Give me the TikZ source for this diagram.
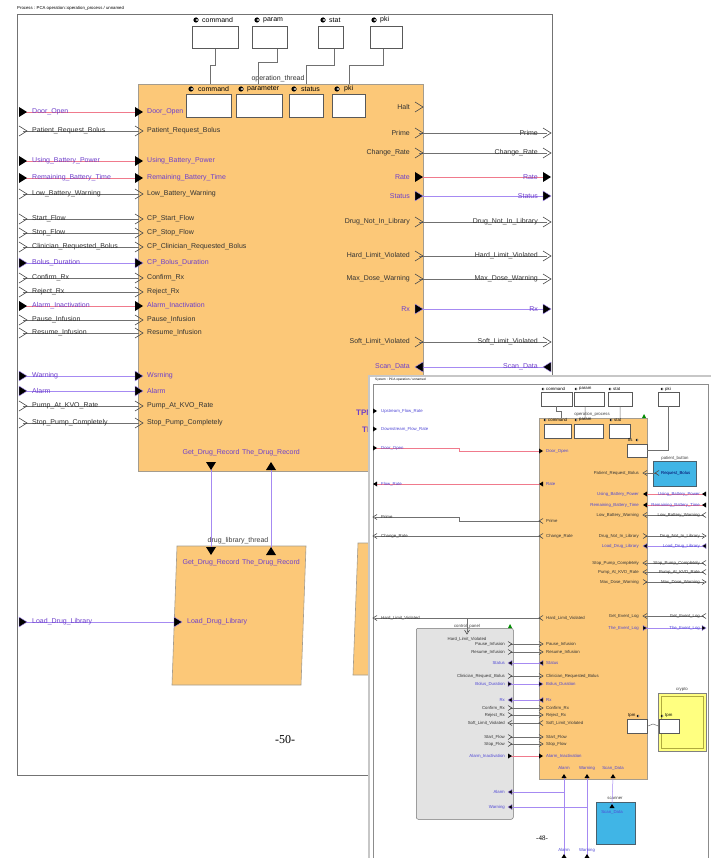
\documentclass[tikz,border=0pt]{standalone}
\usepackage{fontspec}
\setmainfont{Liberation Serif}
\setsansfont{Liberation Sans}

\definecolor{procorange}{HTML}{FCC878}
\definecolor{procedge}{HTML}{A49C8E}
\definecolor{linkred}{HTML}{F07A8C}
\definecolor{linkblue}{HTML}{A68AF2}
\definecolor{linkgrey}{HTML}{707070}
\definecolor{sigviolet}{HTML}{6E3FCB}
\definecolor{sigblue}{HTML}{4D45D6}
\definecolor{panelgrey}{HTML}{E3E3E3}
\definecolor{buttoncyan}{HTML}{40B5E6}
\definecolor{cryptoyellow}{HTML}{FFFF80}

\tikzset{
  biglbl/.style={font=\sffamily\fontsize{7}{8}\selectfont, inner sep=0pt},
  smalllbl/.style={font=\sffamily\fontsize{4.3}{5}\selectfont, inner sep=0pt},
  % colours of the three kinds of signal
  linko/.style={draw=linkgrey},
  linkr/.style={draw=linkred},
  linkb/.style={draw=linkblue},
  txto/.style={text=black!80},
  txtr/.style={text=sigviolet},
  txtb/.style={text=sigviolet},
  stxto/.style={text=black!80},
  stxtr/.style={text=sigblue},
  stxtb/.style={text=sigblue},
  thread/.style={fill=procorange, draw=procedge, line width=0.6pt},
  portbox/.style={draw=black!65, fill=white, line width=0.6pt, inner sep=0pt},
  porto/.pic={\draw[black!70, line width=0.6pt] (-4,-5) -- (4,0) -- (-4,5);},
  portr/.pic={\fill[black] (-4,-5) -- (4,0) -- (-4,5) -- cycle;},
  portb/.pic={\filldraw[fill=black, draw=linkblue, line width=0.4pt] (-4,-5) -- (4,0) -- (-4,5) -- cycle;},
  dataicon/.pic={\fill[black] (0,0) circle (2.6); \fill[white] (1.6,-1.2) -- (-0.6,0) -- (1.6,1.2) -- cycle;},
}

\begin{document}
\begin{tikzpicture}[x=1pt, y=-1pt]
        \fill[white] (0,0) rectangle (711,858);
        \useasboundingbox (0,0) rectangle (711,858);

        % Back page: operation_process
        \node[font=\sffamily\fontsize{4.3}{5}\selectfont, inner sep=0pt, anchor=west] (procTitle) at (17,8) {Process : PCA operation::operation\_process / unnamed};
        \draw[black!55, line width=0.8pt] (17,14) rectangle (552,775);

        % Data ports at the top
        \node[portbox, anchor=north west, minimum width=46pt, minimum height=22pt] (hdrCommand) at (192,26) {};
        \node[portbox, anchor=north west, minimum width=35pt, minimum height=22pt] (hdrParam) at (252,26) {};
        \node[portbox, anchor=north west, minimum width=25pt, minimum height=22pt] (hdrStat) at (318,26) {};
        \node[portbox, anchor=north west, minimum width=32pt, minimum height=22pt] (hdrPki) at (370,26) {};
        \pic at (196,20) {dataicon};
        \node[biglbl, anchor=west] (hdrCommandLbl) at (202,20) {command};
        \pic at (257,20) {dataicon};
        \node[biglbl, anchor=west] (hdrParamLbl) at (263,20) {param};
        \pic at (323,20) {dataicon};
        \node[biglbl, anchor=west] (hdrStatLbl) at (329,20) {stat};
        \pic at (374,20) {dataicon};
        \node[biglbl, anchor=west] (hdrPkiLbl) at (380,20) {pki};

        % The operation thread
        \node[thread, anchor=north west, minimum width=285pt, minimum height=387pt] (opThread) at (138,84) {};
        \node[biglbl, text=black!80] (opThreadLbl) at (278,79) {operation\_thread};
        \coordinate (opCmdPort) at (210,84);
        \coordinate (opParPort) at (258,84);
        \coordinate (opStaPort) at (306,84);
        \coordinate (opPkiPort) at (349,84);
        \draw[linkgrey, line width=0.7pt] (hdrCommand.south) |- (210,65) -- (opCmdPort);
        \draw[linkgrey, line width=0.7pt] ([xshift=8pt]hdrParam.south) |- (258,62) -- (opParPort);
        \draw[linkgrey, line width=0.7pt] ([xshift=4pt]hdrStat.south) |- (306,65) -- (opStaPort);
        \draw[linkgrey, line width=0.7pt] ([xshift=-3pt]hdrPki.south) |- (349,65) -- (opPkiPort);

        \node[portbox, anchor=north west, minimum width=45pt, minimum height=23pt] (thrCommand) at (186,94) {};
        \node[portbox, anchor=north west, minimum width=46pt, minimum height=23pt] (thrParameter) at (236,94) {};
        \node[portbox, anchor=north west, minimum width=34pt, minimum height=23pt] (thrStatus) at (289,94) {};
        \node[portbox, anchor=north west, minimum width=33pt, minimum height=23pt] (thrPki) at (332,94) {};
        \pic at (191,89) {dataicon};
        \node[biglbl, anchor=west] (thrCommandLbl) at (198,89) {command};
        \pic at (241,89) {dataicon};
        \node[biglbl, anchor=west] (thrParameterLbl) at (247,89) {parameter};
        \pic at (294,89) {dataicon};
        \node[biglbl, anchor=west] (thrStatusLbl) at (301,89) {status};
        \pic at (337,89) {dataicon};
        \node[biglbl, anchor=west] (thrPkiLbl) at (344,89) {pki};

        % Inputs on the left
        \foreach \y/\outlbl/\inlbl/\kind in {112/Door\_Open/Door\_Open/r, 131/Patient\_Request\_Bolus/Patient\_Request\_Bolus/o,
            161/Using\_Battery\_Power/Using\_Battery\_Power/r, 178/Remaining\_Battery\_Time/Remaining\_Battery\_Time/r,
            194/Low\_Battery\_Warning/Low\_Battery\_Warning/o, 219/Start\_Flow/CP\_Start\_Flow/o, 233/Stop\_Flow/CP\_Stop\_Flow/o,
            247/Clinician\_Requested\_Bolus/CP\_Clinician\_Requested\_Bolus/o, 263/Bolus\_Duration/CP\_Bolus\_Duration/b,
            278/Confirm\_Rx/Confirm\_Rx/o, 292/Reject\_Rx/Reject\_Rx/o, 306/Alarm\_Inactivation/Alarm\_Inactivation/r,
            320/Pause\_Infusion/Pause\_Infusion/o, 333/Resume\_Infusion/Resume\_Infusion/o, 376/Warning/Wsrning/b,
            391/Alarm/Alarm/b, 406/Pump\_At\_KVO\_Rate/Pump\_At\_KVO\_Rate/o, 423/Stop\_Pump\_Completely/Stop\_Pump\_Completely/o}{
            \coordinate (inL\y) at (23,\y);
            \coordinate (opL\y) at (139,\y);
            \draw[link\kind, line width=0.8pt] (inL\y) -- (opL\y);
            \pic at (inL\y) {port\kind};
            \pic at (opL\y) {port\kind};
            \node[biglbl, txt\kind, anchor=west] (inLlbl\y) at (32,\y) {\outlbl};
            \node[biglbl, txt\kind, anchor=west] (opLlbl\y) at (147,\y) {\inlbl};
        }

        % Outputs on the right
        \coordinate (opR107) at (419,107);
        \pic at (opR107) {porto};
        \node[biglbl, txto, anchor=east] (opRlbl107) at (410,107) {Halt};
        \foreach \y/\sig/\kind/\rot in {133/Prime/o/0, 153/Change\_Rate/o/0, 177/Rate/r/0, 196/Status/b/0,
            222/Drug\_Not\_In\_Library/o/0, 256/Hard\_Limit\_Violated/o/0, 279/Max\_Dose\_Warning/o/0,
            309/Rx/b/0, 342/Soft\_Limit\_Violated/o/0, 367/Scan\_Data/b/180}{
            \coordinate (opR\y) at (419,\y);
            \coordinate (outR\y) at (547,\y);
            \draw[link\kind, line width=0.8pt] (opR\y) -- (outR\y);
            \pic[rotate=\rot] at (opR\y) {port\kind};
            \pic[rotate=\rot] at (outR\y) {port\kind};
            \node[biglbl, txt\kind, anchor=east] (opRlbl\y) at (410,\y) {\sig};
            \node[biglbl, txt\kind, anchor=east] (outRlbl\y) at (538,\y) {\sig};
        }
        \node[font=\sffamily\bfseries\fontsize{8}{9}\selectfont, text=sigviolet, inner sep=0pt, anchor=west] (opTpmA) at (356,413) {TPM};
        \node[font=\sffamily\bfseries\fontsize{8}{9}\selectfont, text=sigviolet, inner sep=0pt, anchor=west] (opTpmB) at (362,430) {TPM};

        % Drug library thread
        \draw[thread] (177,546) -- (306,546) -- (301,685) -- (172,685) -- cycle;
        \node[biglbl, text=black!75] (dlTitle) at (238,541) {drug\_library\_thread};
        \coordinate (opGet) at (211,466);
        \coordinate (opThe) at (271,466);
        \coordinate (dlGet) at (211,551);
        \coordinate (dlThe) at (271,551);
        \draw[linkb, line width=0.8pt] (opGet) -- (dlGet);
        \draw[linkb, line width=0.8pt] (opThe) -- (dlThe);
        \pic[rotate=-90] at (opGet) {portr};
        \pic[rotate=90] at (opThe) {portr};
        \pic[rotate=-90] at (dlGet) {portr};
        \pic[rotate=90] at (dlThe) {portr};
        \node[biglbl, txtr] (opGetLbl) at (211,453) {Get\_Drug\_Record};
        \node[biglbl, txtr] (opTheLbl) at (271,453) {The\_Drug\_Record};
        \node[biglbl, txtr] (dlGetLbl) at (211,563) {Get\_Drug\_Record};
        \node[biglbl, txtr] (dlTheLbl) at (271,563) {The\_Drug\_Record};
        \coordinate (inLoad) at (23,622);
        \coordinate (dlLoad) at (178,622);
        \draw[linkb, line width=0.8pt] (inLoad) -- (dlLoad);
        \pic at (inLoad) {portb};
        \pic at (dlLoad) {portb};
        \node[biglbl, txtb, anchor=west] (inLoadLbl) at (32,622) {Load\_Drug\_Library};
        \node[biglbl, txtb, anchor=west] (dlLoadLbl) at (187,622) {Load\_Drug\_Library};

        % third thread, mostly hidden
        \draw[thread] (358,543) -- (420,543) -- (420,675) -- (353,675) -- cycle;
        \node[font=\fontsize{12}{14}\selectfont, inner sep=0pt] (pageNumA) at (285,740) {-50-};

        % Front page: system view
        \fill[black!22] (368,375) rectangle (711,858);
        \fill[white] (370,377) rectangle (711,858);
        \draw[black!45, line width=0.5pt] (373,384) rectangle (708,860);
        \node[font=\sffamily\fontsize{3.2}{4}\selectfont, inner sep=0pt, anchor=west] (sysTitle) at (375,380) {System : PCA operation / unnamed};

        \node[portbox, line width=0.4pt, anchor=north west, minimum width=31pt, minimum height=14pt] (sysCommand) at (541,392) {};
        \node[portbox, line width=0.4pt, anchor=north west, minimum width=30pt, minimum height=14pt] (sysParam) at (574,392) {};
        \node[portbox, line width=0.4pt, anchor=north west, minimum width=24pt, minimum height=14pt] (sysStat) at (608,392) {};
        \node[portbox, line width=0.4pt, anchor=north west, minimum width=21pt, minimum height=14pt] (sysPki) at (658,392) {};
        \pic[scale=0.5] at (543,389) {dataicon};
        \node[smalllbl, anchor=west] (sysCommandLbl) at (546,389) {command};
        \pic[scale=0.5] at (576,389) {dataicon};
        \node[smalllbl, anchor=west] (sysParamLbl) at (579,389) {param};
        \pic[scale=0.5] at (610,389) {dataicon};
        \node[smalllbl, anchor=west] (sysStatLbl) at (613,389) {stat};
        \pic[scale=0.5] at (662,389) {dataicon};
        \node[smalllbl, anchor=west] (sysPkiLbl) at (665,389) {pki};

        \node[thread, line width=0.5pt, anchor=north west, minimum width=108pt, minimum height=361pt] (opProcess) at (539,418) {};
        \fill[green!55!black] (642,418) -- (646,418) -- (644,414) -- cycle;
        \node[smalllbl, text=black!75] (opProcessLbl) at (592,414) {operation\_process};
        \node[portbox, line width=0.4pt, anchor=north west, minimum width=27pt, minimum height=14pt] (procCommand) at (544,424) {};
        \node[portbox, line width=0.4pt, anchor=north west, minimum width=29pt, minimum height=14pt] (procParam) at (574,424) {};
        \node[portbox, line width=0.4pt, anchor=north west, minimum width=21pt, minimum height=14pt] (procStat) at (609,424) {};
        \node[portbox, line width=0.4pt, anchor=north west, minimum width=20pt, minimum height=13pt] (procTls) at (627,444) {};
        \pic[scale=0.5] at (545,420) {dataicon};
        \node[smalllbl, anchor=west] (procCommandLbl) at (548,420) {command};
        \pic[scale=0.5] at (576,420) {dataicon};
        \node[smalllbl, anchor=west] (procParamLbl) at (579,420) {param};
        \pic[scale=0.5] at (611,420) {dataicon};
        \node[smalllbl, anchor=west] (procStatLbl) at (614,420) {stat};
        \node[smalllbl, anchor=west] (procTlsLbl) at (628,440) {tls};
        \pic[scale=0.5] at (637,440) {dataicon};
        \draw[linkgrey, line width=0.5pt] ([xshift=-0.5pt]sysCommand.south) |- (561,411) -- (561,418);
        \draw[linkgrey, line width=0.5pt] ([xshift=-4pt]sysParam.south) -- (585,418);
        \draw[linkgrey, line width=0.5pt] (sysStat.south) -- (620,418);
        \draw[linkgrey, line width=0.5pt] (sysPki.south) |- (procTls.east);

        % system inputs and outputs on the left
        \coordinate (sysUp) at (375,411);
        \coordinate (sysDown) at (375,429);
        \pic[scale=0.5] at (sysUp) {portr};
        \pic[scale=0.5] at (sysDown) {portr};
        \node[smalllbl, stxtb, anchor=west] (sysUpLbl) at (381,411) {Upstream\_Flow\_Rate};
        \node[smalllbl, stxtb, anchor=west] (sysDownLbl) at (381,429) {Downstream\_Flow\_Rate};

        \coordinate (sysDoor) at (375,448);
        \coordinate (procDoor) at (541,451);
        \draw[linkr, line width=0.5pt] (sysDoor) -| (459,451) -- (procDoor);
        \pic[scale=0.5] at (sysDoor) {portr};
        \pic[scale=0.5] at (procDoor) {portr};
        \node[smalllbl, stxtr, anchor=west] (sysDoorLbl) at (381,448) {Door\_Open};
        \node[smalllbl, stxtr, anchor=west] (procDoorLbl) at (546,451) {Door\_Open};

        \coordinate (sysFlow) at (375,484);
        \coordinate (procRate) at (541,484);
        \draw[linkr, line width=0.5pt] (sysFlow) -- (procRate);
        \pic[scale=0.5, rotate=180] at (sysFlow) {portr};
        \pic[scale=0.5, rotate=180] at (procRate) {portr};
        \node[smalllbl, stxtr, anchor=west] (sysFlowLbl) at (381,484) {Flow\_Rate};
        \node[smalllbl, stxtr, anchor=west] (procRateLbl) at (546,484) {Rate};

        \coordinate (sysPrime) at (375,517);
        \coordinate (procPrime) at (541,521);
        \draw[linko, line width=0.5pt] (sysPrime) -| (459,521) -- (procPrime);
        \pic[scale=0.5, rotate=180] at (sysPrime) {porto};
        \pic[scale=0.5, rotate=180] at (procPrime) {porto};
        \node[smalllbl, stxto, anchor=west] (sysPrimeLbl) at (381,517) {Prime};
        \node[smalllbl, stxto, anchor=west] (procPrimeLbl) at (546,521) {Prime};

        \coordinate (sysChange) at (375,536);
        \coordinate (procChange) at (541,536);
        \draw[linko, line width=0.5pt] (sysChange) -- (procChange);
        \pic[scale=0.5, rotate=180] at (sysChange) {porto};
        \pic[scale=0.5, rotate=180] at (procChange) {porto};
        \node[smalllbl, stxto, anchor=west] (sysChangeLbl) at (381,536) {Change\_Rate};
        \node[smalllbl, stxto, anchor=west] (procChangeLbl) at (546,536) {Change\_Rate};

        % control panel
        \node[draw=black!55, fill=panelgrey, rounded corners=2pt, line width=0.5pt, anchor=north west, minimum width=97pt, minimum height=191pt] (ctrlPanel) at (416,628) {};
        \fill[green!55!black] (508,628) -- (512,628) -- (510,624) -- cycle;
        \node[smalllbl, text=black!75] (ctrlPanelLbl) at (467,626) {control\_panel};

        \coordinate (sysHard) at (375,618);
        \coordinate (procHard) at (541,618);
        \coordinate (ctrlHard) at (467,632);
        \draw[linko, line width=0.5pt] (sysHard) -- (procHard);
        \draw[linko, line width=0.5pt] (467,618) -- (ctrlHard);
        \pic[scale=0.5, rotate=180] at (sysHard) {porto};
        \pic[scale=0.5, rotate=180] at (procHard) {porto};
        \pic[scale=0.5, rotate=-90] at (ctrlHard) {porto};
        \node[smalllbl, stxto, anchor=west] (sysHardLbl) at (381,618) {Hard\_Limit\_Violated};
        \node[smalllbl, stxto, anchor=west] (procHardLbl) at (546,618) {Hard\_Limit\_Violated};
        \node[smalllbl, stxto] (ctrlHardLbl) at (467,639) {Hard\_Limit\_Violated};

        \foreach \y/\cplbl/\pplbl/\kind/\rot in {644/Pause\_Infusion/Pause\_Infusion/o/0, 652/Resume\_Infusion/Resume\_Infusion/o/0,
            663/Status/Status/b/180, 676/Clinician\_Request\_Bolus/Clinician\_Requested\_Bolus/o/0,
            684/Bolus\_Duration/Bolus\_Duration/b/0, 700/Rx/Rx/b/180, 708/Confirm\_Rx/Confirm\_Rx/o/0,
            715/Reject\_Rx/Reject\_Rx/o/0, 723/Soft\_Limit\_Violated/Soft\_Limit\_Violated/o/180,
            737/Start\_Flow/Start\_Flow/o/0, 744/Stop\_Flow/Stop\_Flow/o/0, 756/Alarm\_Inactivation/Alarm\_Inactivation/r/0}{
            \coordinate (cpR\y) at (510,\y);
            \coordinate (procL\y) at (541,\y);
            \draw[link\kind, line width=0.5pt] (cpR\y) -- (procL\y);
            \pic[scale=0.5, rotate=\rot] at (cpR\y) {port\kind};
            \pic[scale=0.5, rotate=\rot] at (procL\y) {port\kind};
            \node[smalllbl, stxt\kind, anchor=east] (cpRlbl\y) at (505,\y) {\cplbl};
            \node[smalllbl, stxt\kind, anchor=west] (procLlbl\y) at (546,\y) {\pplbl};
        }

        % system inputs and outputs on the right
        \node[fill=buttoncyan, draw=cyan!35!black, line width=1.2pt, anchor=north west, minimum width=43pt, minimum height=25pt] (patientButton) at (653,461) {};
        \node[smalllbl, text=black!75] (patientButtonLbl) at (675,458) {patient\_button};
        \coordinate (procPRB) at (645,473);
        \coordinate (btnReq) at (657,473);
        \draw[linko, line width=0.5pt] (procPRB) -- (btnReq);
        \pic[scale=0.5, rotate=180] at (procPRB) {porto};
        \pic[scale=0.5, rotate=180] at (btnReq) {porto};
        \node[smalllbl, stxto, anchor=east] (procPRBLbl) at (639,473) {Patient\_Request\_Bolus};
        \node[smalllbl, text=blue!40!black, anchor=west] (btnReqLbl) at (661,473) {Request\_Bolus};

        \foreach \y/\sig/\kind/\rot in {494/Using\_Battery\_Power/r/180, 505/Remaining\_Battery\_Time/r/180,
            515/Low\_Battery\_Warning/o/180, 536/Drug\_Not\_In\_Library/o/0, 546/Load\_Drug\_Library/b/180,
            563/Stop\_Pump\_Completely/o/180, 572/Pump\_At\_KVO\_Rate/o/180, 582/Max\_Dose\_Warning/o/0,
            616/Get\_Event\_Log/o/180, 628/The\_Event\_Log/b/0}{
            \coordinate (procR\y) at (645,\y);
            \coordinate (sysR\y) at (704,\y);
            \draw[link\kind, line width=0.5pt] (procR\y) -- (sysR\y);
            \pic[scale=0.5, rotate=\rot] at (procR\y) {port\kind};
            \pic[scale=0.5, rotate=\rot] at (sysR\y) {port\kind};
            \node[smalllbl, stxt\kind, anchor=east] (procRlbl\y) at (639,\y) {\sig};
            \node[smalllbl, stxt\kind, anchor=east] (sysRlbl\y) at (700,\y) {\sig};
        }

        % crypto
        \node[fill=cryptoyellow, draw=black!50, line width=0.5pt, anchor=north west, minimum width=48pt, minimum height=58pt] (crypto) at (658,693) {};
        \draw[yellow!65!black, line width=0.8pt] (661,696) rectangle (703,748);
        \node[smalllbl, text=black!75] (cryptoLbl) at (682,690) {crypto};
        \node[portbox, line width=0.4pt, anchor=north west, minimum width=20pt, minimum height=14pt] (procTpm) at (627,719) {};
        \node[portbox, line width=0.4pt, anchor=north west, minimum width=20pt, minimum height=14pt] (cryptoTpm) at (659,719) {};
        \node[smalllbl, anchor=west] (procTpmLbl) at (628,716) {tpm};
        \pic[scale=0.5] at (638,716) {dataicon};
        \pic[scale=0.5] at (662,716) {dataicon};
        \node[smalllbl, anchor=west] (cryptoTpmLbl) at (665,716) {tpm};
        \draw[linkgrey, line width=0.5pt] (procTpm.east) -- (653,724) -- (cryptoTpm.west);

        % bottom ports
        \node[fill=buttoncyan, draw=cyan!35!black, line width=1.2pt, anchor=north west, minimum width=39pt, minimum height=42pt] (scanner) at (596,802) {};
        \node[smalllbl, text=black!75] (scannerLbl) at (615,798) {scanner};
        \coordinate (procAlarm) at (564,776);
        \coordinate (procWarn) at (587,776);
        \coordinate (procScan) at (613,776);
        \coordinate (scanIn) at (612,806);
        \coordinate (sysAlarm) at (564,856);
        \coordinate (sysWarn) at (587,856);
        \coordinate (cpAlarm) at (510,792);
        \coordinate (cpWarn) at (510,807);
        \draw[linkb, line width=0.5pt] (procAlarm) -- (sysAlarm);
        \draw[linkb, line width=0.5pt] (procWarn) -- (sysWarn);
        \draw[linkb, line width=0.5pt] (procScan) -- (scanIn);
        \draw[linkb, line width=0.5pt] (564,792) -- (cpAlarm);
        \draw[linkb, line width=0.5pt] (587,807) -- (cpWarn);
        \foreach \pt in {procAlarm, procWarn, procScan, scanIn, sysAlarm, sysWarn}{
            \pic[scale=0.5, rotate=90] at (\pt) {portr};
        }
        \pic[scale=0.5, rotate=180] at (cpAlarm) {portb};
        \pic[scale=0.5, rotate=180] at (cpWarn) {portb};
        \node[smalllbl, stxtb] (procAlarmLbl) at (564,768) {Alarm};
        \node[smalllbl, stxtb] (procWarnLbl) at (587,768) {Warning};
        \node[smalllbl, stxtb] (procScanLbl) at (613,768) {Scan\_Data};
        \node[smalllbl, stxtb] (scanInLbl) at (612,812) {Scan\_Data};
        \node[smalllbl, stxtb, anchor=east] (cpAlarmLbl) at (505,792) {Alarm};
        \node[smalllbl, stxtb, anchor=east] (cpWarnLbl) at (505,807) {Warning};
        \node[smalllbl, stxtb] (sysAlarmLbl) at (564,850) {Alarm};
        \node[smalllbl, stxtb] (sysWarnLbl) at (587,850) {Warning};
        \node[font=\fontsize{7}{8}\selectfont, inner sep=0pt] (pageNumB) at (542,838) {-48-};
    \end{tikzpicture}
\end{document}
